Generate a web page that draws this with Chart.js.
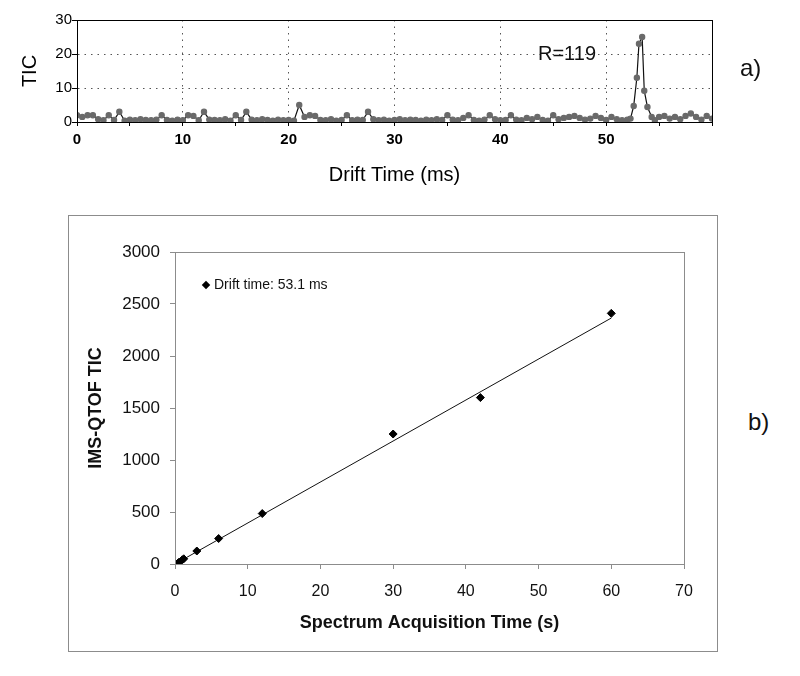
<!DOCTYPE html>
<html>
<head>
<meta charset="utf-8">
<script src="https://cdn.jsdelivr.net/npm/chart.js@4"></script>
<style>
  body { margin: 0; background: #fff; font-family: Arial, "Liberation Sans", sans-serif; }
  #wrap { position: relative; width: 800px; height: 676px; }
  #topBox { position: absolute; left: 0; top: 0; width: 730px; height: 190px; }
  #botBox { position: absolute; left: 68px; top: 215px; width: 648px; height: 435px; border: 1px solid #8c8c8c; }
  .tag { position: absolute; font-size: 24px; line-height: 1.15; color: #111; white-space: nowrap; }
  #legend { position: absolute; left: 201px; top: 276px; font-size: 14px; line-height: 16px; color: #111; white-space: nowrap; }
  #legend i { display: inline-block; width: 6px; height: 6px; background: #000; transform: rotate(45deg); margin: 0 5px 1px 2px; }
</style>
</head>
<body>
<div id="wrap">
  <div id="topBox"><canvas id="topChart"></canvas></div>
  <div class="tag" style="left:538px; top:42px; font-size:20px;">R=119</div>
  <div class="tag" style="left:740px; top:54px;">a)</div>
  <div id="botBox"><canvas id="botChart"></canvas></div>
  <div id="legend"><i></i>Drift time: 53.1 ms</div>
  <div class="tag" style="left:748px; top:408px;">b)</div>
</div>
<script>
// a) TIC vs drift time
const driftTimes = [
  0, 0.5, 1, 1.5, 2, 2.5, 3, 3.5, 4, 4.5, 5, 5.5, 6, 6.5, 7, 7.5, 8, 8.5, 9, 9.5,
  10, 10.5, 11, 11.5, 12, 12.5, 13, 13.5, 14, 14.5, 15, 15.5, 16, 16.5, 17, 17.5, 18, 18.5, 19, 19.5,
  20, 20.5, 21, 21.5, 22, 22.5, 23, 23.5, 24, 24.5, 25, 25.5, 26, 26.5, 27, 27.5, 28, 28.5, 29, 29.5,
  30, 30.5, 31, 31.5, 32, 32.5, 33, 33.5, 34, 34.5, 35, 35.5, 36, 36.5, 37, 37.5, 38, 38.5, 39, 39.5,
  40, 40.5, 41, 41.5, 42, 42.5, 43, 43.5, 44, 44.5, 45, 45.5, 46, 46.5, 47, 47.5, 48, 48.5, 49, 49.5,
  50, 50.5, 51, 51.5, 52, 52.3, 52.6, 52.9, 53.1, 53.4, 53.6, 53.9, 54.3, 54.6,
  55, 55.5, 56, 56.5, 57, 57.5, 58, 58.5, 59, 59.5, 60
];
const ticValues = [
  2, 1.5, 2, 2, 0.8, 0.5, 2, 0.6, 3, 0.4, 0.7, 0.5, 0.8, 0.6, 0.5, 0.7, 2, 0.6, 0.4, 0.7,
  0.5, 2, 1.8, 0.5, 3, 0.7, 0.6, 0.5, 0.8, 0.4, 2, 0.6, 3, 0.7, 0.5, 0.8, 0.6, 0.4, 0.7, 0.5,
  0.6, 0.4, 5, 1.5, 2, 1.8, 0.6, 0.5, 0.8, 0.4, 0.6, 2, 0.5, 0.7, 0.6, 3, 0.8, 0.5, 0.7, 0.4,
  0.6, 0.8, 0.5, 0.7, 0.6, 0.4, 0.7, 0.5, 0.8, 0.6, 2, 0.7, 0.5, 1.2, 2, 0.6, 0.4, 0.7, 2, 0.8,
  0.5, 0.6, 2, 0.7, 0.5, 1.2, 0.8, 1.5, 0.6, 0.4, 2, 0.8, 1.2, 1.5, 1.8, 1.2, 0.7, 1.0, 1.8, 1.2,
  0.6, 1.5, 0.8, 0.5, 0.7, 1.0, 4.7, 13, 23, 25, 9.2, 4.4, 1.5, 0.5,
  1.5, 1.8, 1.0, 1.5, 0.8, 1.8, 2.5, 1.5, 0.7, 1.8, 1.0
];

// b) IMS-QTOF TIC vs acquisition time
const acqTimes = [0, 0.5, 1, 1.2, 3, 6, 12, 30, 42, 60];
const qtofTic = [5, 15, 40, 50, 125, 245, 485, 1250, 1600, 2410];
const trendX = [0, 60];
const trendY = [0, 2365];

const FONT = 'Arial, "Liberation Sans", sans-serif';

// frame round the plot area
const frame = {
  id: 'frame',
  afterDraw(chart, args, opts) {
    const { ctx, chartArea: a } = chart;
    ctx.save();
    ctx.strokeStyle = opts.color;
    ctx.lineWidth = 1;
    ctx.strokeRect(Math.round(a.left) + 0.5, Math.round(a.top) + 0.5,
      Math.round(a.right - a.left), Math.round(a.bottom - a.top));
    ctx.restore();
  }
};

new Chart(document.getElementById('topChart'), {
  type: 'line',
  data: {
    datasets: [{
      data: driftTimes.map((t, i) => ({ x: t, y: ticValues[i] })),
      borderColor: '#111',
      borderWidth: 1.2,
      pointRadius: 2.6,
      pointBackgroundColor: '#6a6a6a',
      pointBorderColor: '#6a6a6a',
      tension: 0
    }]
  },
  options: {
    responsive: true,
    maintainAspectRatio: false,
    animation: false,
    layout: { padding: { left: 0, right: 18, top: 20, bottom: 0 } },
    plugins: { legend: { display: false }, tooltip: { enabled: false }, frame: { color: '#000' } },
    scales: {
      x: {
        type: 'linear', min: 0, max: 60,
        afterFit: (s) => { s.height = 68; },
        ticks: {
          stepSize: 5, color: '#000', padding: 5, maxRotation: 0, autoSkip: false,
          font: { family: FONT, size: 15, weight: 'bold' },
          callback: (v) => (v % 10 === 0 && v < 60 ? v : '')
        },
        grid: {
          color: (c) => (c.tick && c.tick.value % 10 === 0 && c.tick.value > 0 && c.tick.value < 60 ? '#555' : 'rgba(0,0,0,0)'),
          tickColor: '#000', tickLength: 4
        },
        border: { color: '#000', dash: [1.5, 5] },
        title: { display: true, text: 'Drift Time (ms)', color: '#000', font: { family: FONT, size: 20 }, padding: { top: 0, bottom: 3 } }
      },
      y: {
        min: 0, max: 30,
        afterFit: (s) => { s.width = 77; },
        ticks: {
          stepSize: 5, color: '#000', padding: 0,
          font: { family: FONT, size: 15 },
          callback: (v) => (v % 10 === 0 ? v : '')
        },
        grid: {
          color: (c) => (c.tick && (c.tick.value === 10 || c.tick.value === 20) ? '#555' : 'rgba(0,0,0,0)'),
          tickColor: '#000', tickLength: 5
        },
        border: { color: '#000', dash: [1.5, 5] },
        title: { display: true, text: 'TIC', color: '#000', font: { family: FONT, size: 20 }, padding: { top: 18, bottom: 0 } }
      }
    }
  },
  plugins: [frame]
});

new Chart(document.getElementById('botChart'), {
  type: 'scatter',
  data: {
    datasets: [
      {
        label: 'Drift time: 53.1 ms',
        data: acqTimes.map((t, i) => ({ x: t, y: qtofTic[i] })),
        pointStyle: 'rectRot',
        pointRadius: 4,
        backgroundColor: '#000',
        borderColor: '#000'
      },
      {
        label: 'trend',
        data: trendX.map((t, i) => ({ x: t, y: trendY[i] })),
        showLine: true,
        borderColor: '#111',
        borderWidth: 1,
        pointRadius: 0
      }
    ]
  },
  options: {
    responsive: true,
    maintainAspectRatio: false,
    animation: false,
    layout: { padding: { left: 0, right: 33, top: 36, bottom: 0 } },
    plugins: {
      tooltip: { enabled: false },
      frame: { color: '#8c8c8c' },
      legend: { display: false }
    },
    scales: {
      x: {
        min: 0, max: 70,
        afterFit: (s) => { s.height = 87; },
        ticks: { stepSize: 10, color: '#111', padding: 13, font: { family: FONT, size: 16 } },
        grid: { drawOnChartArea: false, tickColor: '#8c8c8c', tickLength: 5 },
        border: { color: '#8c8c8c' },
        title: { display: true, text: 'Spectrum Acquisition Time (s)', color: '#111', font: { family: FONT, size: 18, weight: 'bold' }, padding: { top: 0, bottom: 17 } }
      },
      y: {
        min: 0, max: 3000,
        afterFit: (s) => { s.width = 106; },
        ticks: { stepSize: 500, color: '#111', padding: 10, font: { family: FONT, size: 17 }, callback: (v) => String(v) },
        grid: { drawOnChartArea: false, tickColor: '#8c8c8c', tickLength: 5 },
        border: { color: '#8c8c8c' },
        title: { display: true, text: 'IMS-QTOF TIC', color: '#111', font: { family: FONT, size: 18, weight: 'bold' }, padding: { top: 16, bottom: 0 } }
      }
    }
  },
  plugins: [frame]
});
</script>
</body>
</html>
